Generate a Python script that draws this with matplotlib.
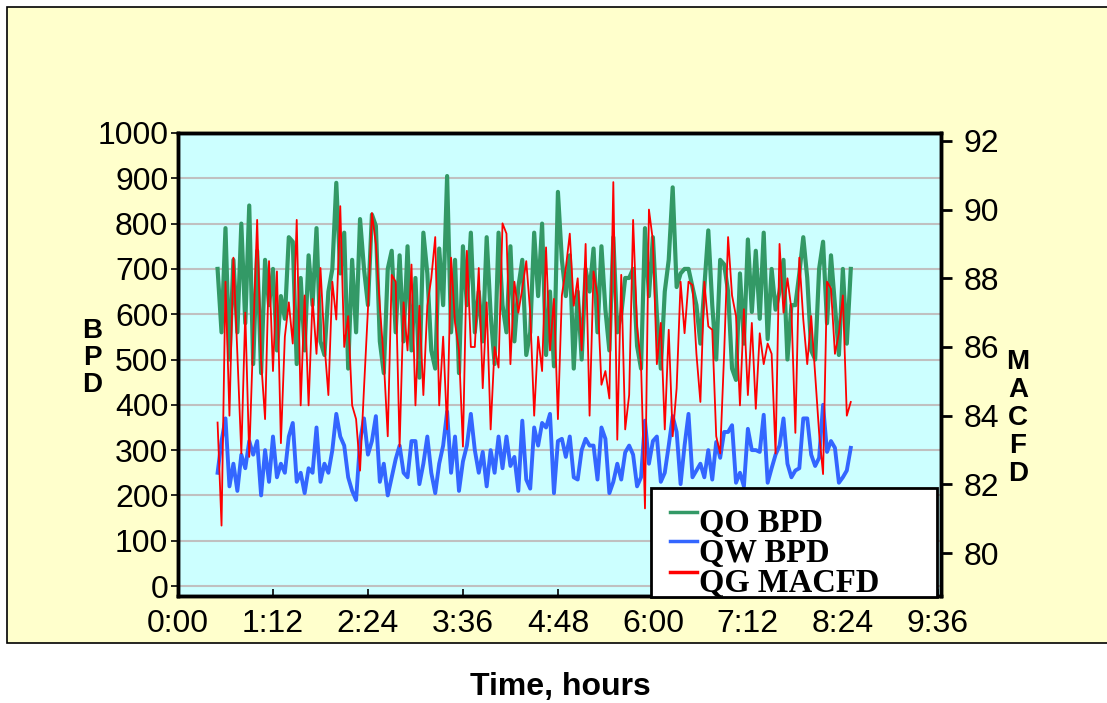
import numpy as np
import matplotlib
matplotlib.use("Agg")
from matplotlib import pyplot as plt
from matplotlib.patches import Rectangle
from matplotlib.lines import Line2D

plt.rcParams['font.family'] = ['Liberation Sans', 'DejaVu Sans']

# sampling grid (hours)
t_start = 0.5
t_step = 0.05

# oil rate, BPD (left axis)
qo_bpd = [700, 560, 790, 500, 720, 560, 800, 580, 840, 490, 740, 470, 720, 620, 700, 520, 640, 590, 770, 760,
          490, 680, 520, 730, 620, 790, 540, 510, 650, 700, 890, 690, 780, 480, 720, 560, 810, 700, 620, 820,
          795, 540, 470, 700, 740, 560, 730, 540, 750, 520, 680, 460, 780, 690, 520, 480, 745, 620, 905, 560,
          720, 470, 750, 620, 780, 560, 650, 540, 770, 600, 490, 780, 620, 560, 750, 540, 660, 720, 510, 560,
          780, 640, 800, 510, 650, 485, 870, 720, 640, 730, 480, 650, 500, 700, 650, 745, 560, 750, 610, 520,
          770, 560, 600, 680, 680, 700, 530, 480, 790, 640, 770, 600, 480, 650, 720, 880, 660, 690, 700, 700,
          660, 620, 535, 660, 785, 620, 500, 720, 710, 650, 480, 455, 690, 535, 765, 605, 740, 590, 780, 545,
          700, 610, 650, 720, 500, 620, 620, 690, 770, 680, 520, 500, 700, 760, 580, 730, 620, 510, 700, 535,
          700]

# water rate, BPD (left axis)
qw_bpd = [250, 320, 370, 220, 270, 210, 290, 260, 320, 290, 320, 200, 300, 230, 330, 240, 270, 250, 330, 360,
          230, 250, 205, 260, 250, 350, 230, 270, 250, 300, 380, 330, 310, 240, 210, 190, 320, 370, 290, 320,
          375, 230, 270, 200, 240, 280, 310, 250, 240, 320, 320, 225, 270, 330, 250, 205, 270, 310, 385, 250,
          330, 210, 275, 310, 380, 300, 250, 296, 220, 300, 250, 330, 260, 330, 265, 285, 210, 365, 235, 215,
          350, 310, 360, 350, 380, 205, 320, 325, 285, 330, 240, 235, 300, 325, 310, 310, 235, 350, 325, 205,
          230, 270, 235, 295, 310, 290, 220, 240, 365, 270, 320, 330, 230, 250, 310, 375, 340, 225, 310, 380,
          240, 255, 270, 240, 300, 235, 318, 283, 340, 340, 355, 228, 250, 220, 347, 300, 300, 296, 378, 228,
          260, 290, 310, 370, 270, 240, 255, 260, 370, 370, 290, 265, 283, 400, 296, 320, 305, 228, 240, 255,
          305]

# gas rate, MACFD (right axis)
qg_macfd = [83.8, 80.8, 87.9, 84.0, 88.6, 85.8, 82.9, 87.0, 82.8, 86.3, 89.7, 85.6, 83.9, 88.5, 85.3, 88.2,
            83.2, 86.3, 87.3, 86.1, 89.7, 84.3, 87.5, 84.3, 87.4, 85.8, 88.3, 86.1, 84.6, 87.9, 86.8, 90.1,
            86.0, 86.9, 84.3, 83.9, 82.4, 84.8, 87.1, 89.9,
            89.0, 87.2, 85.6, 83.4, 88.1, 87.9, 83.1, 87.3, 85.9, 88.4, 84.3, 87.2, 84.6, 87.2, 88.0, 89.2,
            84.3, 86.3, 83.6, 88.6, 86.7, 85.9, 83.1, 88.8, 86.0, 86.0, 88.3, 84.8, 87.3, 83.6, 86.0, 85.4,
            89.6, 89.3, 85.5, 87.9, 87.0, 87.7, 88.5, 87.0, 84.0,
            86.3, 85.3, 88.9, 85.9, 87.4, 83.9, 87.5, 88.3, 89.3, 87.2, 88.0, 85.9, 89.0, 84.0, 88.2, 87.5,
            84.9, 85.3, 84.5, 90.8, 83.3, 88.1, 83.6, 84.6, 89.7, 86.6, 85.5, 81.3, 90.0, 89.1, 85.5, 86.7,
            83.6, 86.5, 83.4, 84.8, 87.9, 86.4, 87.9, 87.8,
            85.8, 84.4, 87.9, 86.6, 86.5, 83.4, 82.9, 85.8, 89.2, 87.5, 86.9, 84.3, 87.1, 84.6, 86.7, 84.2,
            86.4, 85.5, 86.1, 85.8, 82.9, 89.0, 87.0, 88.0, 87.1, 83.5, 88.6, 86.8, 85.5, 86.9, 85.2, 83.5,
            82.3, 87.9, 87.7, 85.8, 86.4, 87.5, 84.0, 84.4]

hours = t_start + t_step * np.arange(len(qo_bpd))

x_ticks = [0, 1.2, 2.4, 3.6, 4.8, 6.0, 7.2, 8.4, 9.6]
x_labels = ["0:00", "1:12", "2:24", "3:36", "4:48", "6:00", "7:12", "8:24", "9:36"]
left_ticks = [0, 100, 200, 300, 400, 500, 600, 700, 800, 900, 1000]
right_ticks = [80, 82, 84, 86, 88, 90, 92]

W, H = 1107, 703
fig = plt.figure(figsize=(W / 100, H / 100), dpi=100, facecolor="white")

# yellow chart panel, behind the axes
fig.patches.append(Rectangle((7 / W, 1 - 643 / H), 1.2, (643 - 7) / H, transform=fig.transFigure,
                             facecolor="#FFFFCC", edgecolor="black", linewidth=1.2, zorder=-5))

ax = fig.add_axes([178 / W, 1 - 596 / H, (941 - 178) / W, (596 - 133) / H])
ax.set_facecolor("#CCFFFF")
ax.plot(hours, qo_bpd, color="#339966", linewidth=3.0, zorder=3)
ax.plot(hours, qw_bpd, color="#3366FF", linewidth=2.8, zorder=3)
ax.set_xlim(0, 9.64)
ax.set_ylim(-22, 1000)
ax.set_xticks(x_ticks)
ax.set_xticklabels(x_labels)
ax.set_yticks(left_ticks)
ax.grid(axis="y", color="#C0C0C0", linewidth=1.5)
ax.set_axisbelow(True)
ax.tick_params(axis="y", direction="out", length=5, width=1.2, labelsize=23, pad=2)
ax.tick_params(axis="x", direction="in", length=5, width=1.2, labelsize=23, pad=9)
for s in ax.spines.values():
    s.set_linewidth(2.5)
    s.set_color("black")

ax2 = ax.twinx()
ax2.plot(hours, qg_macfd, color="#FF0000", linewidth=1.3, zorder=4)
ax2.set_ylim(78.75, 92.23)
ax2.set_yticks(right_ticks)
ax2.tick_params(axis="y", direction="out", length=8, width=2, labelsize=23, pad=8)
for s in ax2.spines.values():
    s.set_linewidth(2.5)

# legend box drawn by hand to follow the original layout
def axf(px, py):
    return (px - 178) / (941 - 178), (596 - py) / (596 - 133)

lx0, ly0 = axf(651, 597)
lx1, ly1 = axf(937, 488)
ax2.add_patch(Rectangle((lx0, ly0), lx1 - lx0, ly1 - ly0, transform=ax2.transAxes, facecolor="white",
                        edgecolor="black", linewidth=2, zorder=10, clip_on=False))
entries = [("QO BPD", "#339966", 512, 532), ("QW BPD", "#3366FF", 541, 562), ("QG MACFD", "#FF0000", 572, 592)]
for label, col, line_y, base_y in entries:
    a0, b0 = axf(670, line_y)
    a1, _ = axf(697, line_y)
    ax2.add_line(Line2D([a0, a1], [b0, b0], transform=ax2.transAxes, color=col, linewidth=2.5, zorder=11))
    tx, ty = axf(699, base_y)
    ax2.text(tx, ty, label, transform=ax2.transAxes, family="Liberation Serif", fontweight="bold",
             fontsize=23.5, ha="left", va="baseline", zorder=12)

fig.text(92 / W, 1 - 358 / H, "B\nP\nD", ha="center", va="center", fontsize=20, fontweight="bold", linespacing=1.05)
fig.text(1018 / W, 1 - 418 / H, "M\nA\nC\nF\nD", ha="center", va="center", fontsize=20, fontweight="bold",
         linespacing=1.1)
fig.text(560 / W, 1 - 687 / H, "Time, hours", ha="center", va="center", fontsize=23, fontweight="bold")

fig.savefig("out.png", dpi=100, facecolor=fig.get_facecolor())
